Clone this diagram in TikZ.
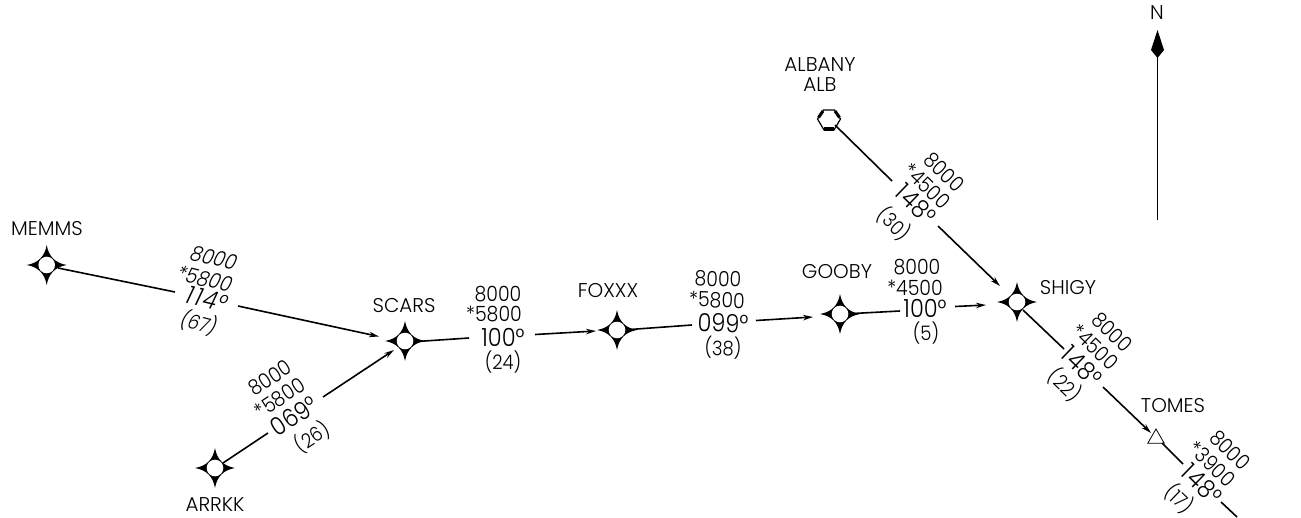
\documentclass[tikz,border=0pt]{standalone}
\usepackage{fontspec}
\setmainfont{Poppins}[UprightFont=* Light]
\newfontfamily\numfont{Poppins}[UprightFont=* Light,FakeStretch=0.9]
\usetikzlibrary{arrows.meta,shapes.geometric}
\newcommand\oneg{1\kern2.5pt}
\tikzset{
  x=1pt,y=-1pt,
  route/.style={line width=1.6pt,black},
  leg/.style={route,-{Stealth[length=10pt,width=5.5pt]}},
  fixname/.style={font=\fontsize{19.9}{22}\selectfont,inner sep=0pt},
  alt/.style={font=\numfont\fontsize{21}{24}\selectfont,inner sep=0pt},
  crs/.style={font=\numfont\fontsize{25}{28}\selectfont,inner sep=0pt},
  dst/.style={font=\numfont\fontsize{20}{22}\selectfont,inner sep=0pt},
  fixdot/.style={circle,fill=white,minimum size=16.6pt,inner sep=0pt},
  fixstar/.pic={\fill[black] (0,-20) .. controls (2,-8.5) and (8.5,-2) .. (20,0)
     .. controls (8.5,2) and (2,8.5) .. (0,20) .. controls (-2,8.5) and (-8.5,2) .. (-20,0)
     .. controls (-8.5,-2) and (-2,-8.5) .. (0,-20) -- cycle;}
}
\begin{document}
\begin{tikzpicture}
\path[use as bounding box] (0,0) rectangle (1301,517);
% fixes
\foreach \n/\px/\py in {MEMMS/46.7/265,SCARS/405/341,ARRKK/215/468,FOXXX/617/330,GOOBY/840/314,SHIGY/1017/302}{
  \pic at (\px,\py) {fixstar};
  \node[fixdot] (\n) at (\px,\py) {};
}
\coordinate (ALB) at (829,120);
\draw[line width=1.2pt,fill=white] (823.5,110) -- (834.5,110) -- (840.5,119) -- (834,130) -- (824,130) -- (817.5,119) -- cycle;
\draw[line width=3pt] (818.5,117.5) -- (823,111);
\draw[line width=3pt] (835,111) -- (839.5,117.5);
\fill[black] (824,127) rectangle (834,131);
\node[regular polygon,regular polygon sides=3,draw=black,line width=.8pt,fill=white,minimum size=19pt,inner sep=0pt] (TOMES) at (1156,438.5) {};
% names
\node[fixname] (tMEMMS) at (47,229) {MEMMS};
\node[fixname] (tSCARS) at (404,306) {SCARS};
\node[fixname] (tARRKK) at (215,505) {ARRKK};
\node[fixname] (tFOXXX) at (608,291) {FOXXX};
\node[fixname] (tGOOBY) at (837,272) {GOOBY};
\node[fixname] (tSHIGY) at (1068,288) {SHIGY};
\node[fixname] (tTOMES) at (1173,406) {TOMES};
\node[fixname] (tALBANY) at (820,65) {ALBANY};
\node[fixname] (tALB) at (820,85) {ALB};
\node[fixname] (tN) at (1157,13) {N};
% connector break points
\coordinate (a1) at (58,268); \coordinate (a2) at (175,292); \coordinate (a3) at (238,306); \coordinate (a4) at (379,336.5);
\coordinate (b1) at (223,463); \coordinate (b2) at (268,433); \coordinate (b3) at (323,397); \coordinate (b4) at (394,350);
\coordinate (c1) at (417,341.5); \coordinate (c2) at (469,338); \coordinate (c3) at (535,334.5); \coordinate (c4) at (596,331);
\coordinate (d1) at (630,329.5); \coordinate (d2) at (692,325); \coordinate (d3) at (756,320.5); \coordinate (d4) at (813,317);
\coordinate (e1) at (853,313.5); \coordinate (e2) at (900,311); \coordinate (e3) at (955,306.5); \coordinate (e4) at (986,305);
\coordinate (f1) at (835,125); \coordinate (f2) at (892,181); \coordinate (f3) at (938,226); \coordinate (f4) at (1000,286);
\coordinate (g1) at (1023,310); \coordinate (g2) at (1064,349); \coordinate (g3) at (1103,387); \coordinate (g4) at (1151,433);
\coordinate (h1) at (1162,443); \coordinate (h2) at (1183,464); \coordinate (h3) at (1221,502); \coordinate (h4) at (1237,517);
\draw[route] (a1) -- (a2); \draw[leg] (a3) -- (a4);
\draw[route] (b1) -- (b2); \draw[leg] (b3) -- (b4);
\draw[route] (c1) -- (c2); \draw[leg] (c3) -- (c4);
\draw[route] (d1) -- (d2); \draw[leg] (d3) -- (d4);
\draw[route] (e1) -- (e2); \draw[leg] (e3) -- (e4);
\draw[route] (f1) -- (f2); \draw[leg] (f3) -- (f4);
\draw[route] (g1) -- (g2); \draw[leg] (g3) -- (g4);
\draw[route] (h1) -- (h2); \draw[route] (h3) -- (h4);
% north arrow
\coordinate (n1) at (1157.5,57); \coordinate (n2) at (1157.5,220);
\draw[line width=1pt] (n1) -- (n2);
\fill[black] (1157.5,30) -- (1164,50) -- (1157.5,58) -- (1151,50) -- cycle;
% leg labels
\tikzset{mem/.style={rotate=-14,xslant=.2}}
\node[alt,mem] (m1) at (214,258) {8000};
\node[alt,mem] (m2) at (205,279) {*5800};
\node[crs,mem] (m3) at (207,299) {\oneg\oneg 4°};
\node[dst,mem] (m4) at (199,323) {(67)};
\node[alt,rotate=33] (r1) at (270,378) {8000};
\node[alt,rotate=33] (r2) at (280,398) {*5800};
\node[crs,rotate=33] (r3) at (294,416) {069°};
\node[dst,rotate=33] (r4) at (312,437) {(26)};
\node[alt] (s1) at (498,294) {8000};
\node[alt] (s2) at (494,314) {*5800};
\node[crs] (s3) at (503,337) {100°};
\node[dst] (s4) at (503,362) {(24)};
\node[alt,rotate=-2] (o1) at (718,279) {8000};
\node[alt,rotate=-2] (o2) at (717,300) {*5800};
\node[crs,rotate=-2] (o3) at (723,323) {099°};
\node[dst,rotate=-2] (o4) at (723,348) {(38)};
\node[alt] (q1) at (917,267) {8000};
\node[alt] (q2) at (915,288) {*4500};
\node[crs] (q3) at (925,308) {100°};
\node[dst] (q4) at (926,333) {(5)};
\node[alt,rotate=-44] (w1) at (944,172) {8000};
\node[alt,rotate=-44] (w2) at (927,186) {*4500};
\node[crs,rotate=-44] (w3) at (916,204) {\oneg 48°};
\node[dst,rotate=-44] (w4) at (894,224) {(30)};
\node[alt,rotate=-44] (x1) at (1112,332) {8000};
\node[alt,rotate=-44] (x2) at (1095,347) {*4500};
\node[crs,rotate=-44] (x3) at (1082,366) {\oneg 48°};
\node[dst,rotate=-44] (x4) at (1065,385) {(22)};
\node[alt,rotate=-44] (y1) at (1230,450) {8000};
\node[alt,rotate=-44] (y2) at (1212,464) {*3900};
\node[crs,rotate=-44] (y3) at (1202,484) {\oneg 48°};
\node[dst,rotate=-44] (y4) at (1179,499) {(17)};
\end{tikzpicture}
\end{document}
